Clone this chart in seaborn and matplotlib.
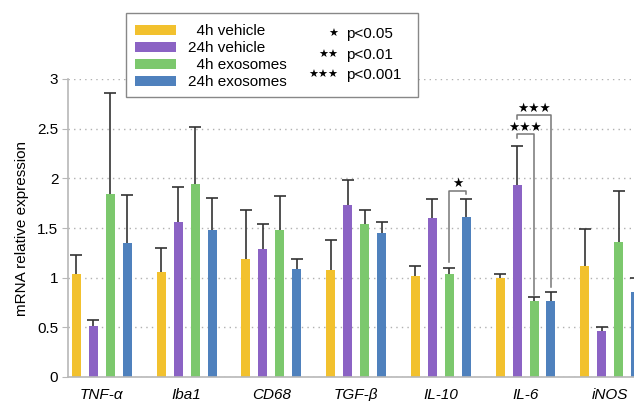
import numpy as np
import pandas as pd
import matplotlib
matplotlib.use("Agg")
import matplotlib.pyplot as plt
import seaborn as sns
from matplotlib.patches import Patch, Rectangle

genes = ["TNF-α", "Iba1", "CD68", "TGF-β", "IL-10", "IL-6", "iNOS"]
groups = ["4h vehicle", "24h vehicle", "4h exosomes", "24h exosomes"]

# means and upper errors per group, in gene order
veh_4h = [1.04, 1.06, 1.19, 1.08, 1.02, 1.00, 1.12]
veh_24h = [0.51, 1.56, 1.29, 1.73, 1.60, 1.93, 0.46]
exo_4h = [1.84, 1.94, 1.48, 1.54, 1.04, 0.77, 1.36]
exo_24h = [1.35, 1.48, 1.09, 1.45, 1.61, 0.77, 0.86]

err_veh_4h = [0.19, 0.24, 0.49, 0.30, 0.10, 0.04, 0.37]
err_veh_24h = [0.06, 0.35, 0.25, 0.25, 0.19, 0.40, 0.04]
err_exo_4h = [1.02, 0.58, 0.34, 0.14, 0.06, 0.04, 0.51]
err_exo_24h = [0.48, 0.32, 0.10, 0.11, 0.18, 0.09, 0.14]

colors = ["#F2C12E", "#8B63C4", "#7CC86D", "#4F81BD"]

plt.rcParams.update({"font.size": 11, "font.family": ["Liberation Sans", "DejaVu Sans"]})

df = pd.DataFrame({
    "gene": np.tile(genes, 4),
    "group": np.repeat(groups, len(genes)),
    "value": veh_4h + veh_24h + exo_4h + exo_24h,
    "err": err_veh_4h + err_veh_24h + err_exo_4h + err_exo_24h,
})

fig = plt.figure(figsize=(6.34, 4.01), dpi=100)
ax = fig.add_axes([68 / 634, 24 / 401, 1 - 68 / 634, 298 / 401])

sns.barplot(data=df, x="gene", y="value", hue="group", order=genes, hue_order=groups,
            palette=colors, saturation=1, width=0.8, gap=0.47, errorbar=None, legend=False,
            ax=ax, zorder=2)

# upper error bars only, placed on the bar centres seaborn computed
centres = {}
for gi, grp in enumerate(groups):
    bars = ax.containers[gi]
    sub = df[df["group"] == grp]
    xs = np.array([b.get_x() + b.get_width() / 2 for b in bars])
    for gene, x in zip(genes, xs):
        centres[(gene, grp)] = x
    tops = sub["value"].to_numpy() + sub["err"].to_numpy()
    ax.vlines(xs, sub["value"], tops, color="#333333", lw=1.2, zorder=3)
    ax.plot(xs, tops, ls="none", marker="_", markersize=8, mew=1.2, color="#333333", zorder=3)

ax.set_ylim(0, 3)
ax.set_xlim(-0.4, 6.28)
ax.set_yticks([0, 0.5, 1, 1.5, 2, 2.5, 3])
ax.set_yticklabels(["0", "0.5", "1", "1.5", "2", "2.5", "3"])
ax.yaxis.grid(True, linestyle=(0, (1, 3)), color="#b0b0b0", linewidth=1, zorder=0)
ax.set_axisbelow(True)
for side in ["top", "right"]:
    ax.spines[side].set_visible(False)
for side in ["left", "bottom"]:
    ax.spines[side].set_color("#b8b8b8")
    ax.spines[side].set_linewidth(1.2)
ax.tick_params(axis="y", colors="#b8b8b8", labelcolor="black", length=4, pad=3)
ax.tick_params(axis="x", length=0, pad=8)
for lbl in ax.get_xticklabels():
    lbl.set_fontstyle("italic")
ax.set_xlabel("")
ax.set_ylabel("mRNA relative expression", labelpad=6)


def bracket(x1, x2, y_left, y_top, y_right, label, y_text, x_text):
    ax.plot([x1, x1, x2, x2], [y_left, y_top, y_top, y_right], color="#777777", lw=1.1,
            clip_on=False, zorder=4)
    ax.text(x_text, y_text, label, ha="center", va="center", fontsize=9,
            family="DejaVu Sans", zorder=4)


bracket(centres[("IL-10", "4h exosomes")], centres[("IL-10", "24h exosomes")],
        1.16, 1.877, 1.84, "★", 1.95, (centres[("IL-10", "4h exosomes")] + centres[("IL-10", "24h exosomes")]) / 2)
bracket(centres[("IL-6", "24h vehicle")], centres[("IL-6", "4h exosomes")],
        2.405, 2.446, 0.824, "★★★", 2.51, (centres[("IL-6", "24h vehicle")] + centres[("IL-6", "4h exosomes")]) / 2)
bracket(centres[("IL-6", "24h vehicle")], centres[("IL-6", "24h exosomes")],
        2.60, 2.634, 0.908, "★★★", 2.70, (centres[("IL-6", "24h vehicle")] + centres[("IL-6", "4h exosomes")]) / 2 + 0.1)

# legend box
fig.patches.append(Rectangle((126 / 634, 1 - 97 / 401), 292 / 634, 84 / 401, transform=fig.transFigure,
                             facecolor="white", edgecolor="#888888", linewidth=1.0, zorder=5))
handles = [Patch(facecolor=c, edgecolor="none") for c in colors]
labels = ["  4h vehicle", "24h vehicle", "  4h exosomes", "24h exosomes"]
leg = fig.legend(handles, labels, loc="upper left", bbox_to_anchor=(135 / 634, 1 - 24 / 401),
                 frameon=False, borderpad=0, borderaxespad=0, handlelength=2.7, handleheight=0.65,
                 handletextpad=0.75, labelspacing=0.2, fontsize=11)
leg.set_zorder(6)

p_rows = [("★", "p<0.05"), ("★★", "p<0.01"), ("★★★", "p<0.001")]
for i, (stars, txt) in enumerate(p_rows):
    yy = 1 - (34 + i * 20.5) / 401
    fig.text(338 / 634, yy, stars, ha="right", va="center", fontsize=8, family="DejaVu Sans", zorder=7)
    fig.text(346 / 634, yy, txt, ha="left", va="center", fontsize=11, zorder=7)

fig.savefig("out.png", dpi=100)
